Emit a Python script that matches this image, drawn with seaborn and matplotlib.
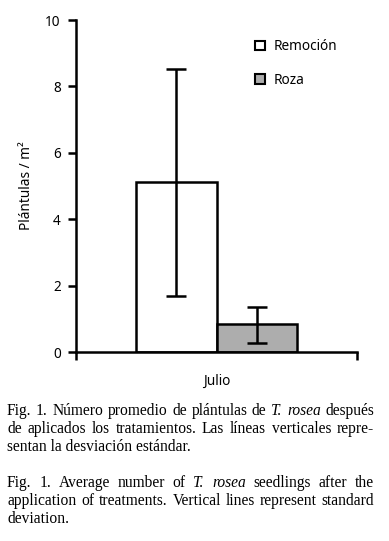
import matplotlib
matplotlib.use("Agg")
import matplotlib.pyplot as plt
import pandas as pd
import seaborn as sns
from matplotlib.patches import Patch

# data
month = ["Julio", "Julio"]
treatments = ["Remoción", "Roza"]
means = [5.12, 0.84]
sd_low = [1.69, 0.27]
sd_high = [8.53, 1.37]
bar_colors = ["#ffffff", "#adadad"]
yticks = [0, 2, 4, 6, 8, 10]

df = pd.DataFrame({"Mes": month, "Tratamiento": treatments, "Plantulas": means})

sns.set_style("ticks")
plt.rcParams["font.family"] = ["Noto Sans", "DejaVu Sans"]
plt.rcParams.update({"axes.edgecolor": "black", "xtick.color": "black",
                     "ytick.color": "black", "text.color": "black",
                     "axes.labelcolor": "black"})

W, H = 389, 541
fig = plt.figure(figsize=(W / 100, H / 100), dpi=100)
ax = fig.add_axes([76 / W, 1 - 352 / H, 281 / W, 332 / H])

sns.barplot(data=df, x="Mes", y="Plantulas", hue="Tratamiento",
            palette=bar_colors, width=0.573, errorbar=None,
            edgecolor="black", linewidth=1.8, legend=False, ax=ax)

# error bars at bar centres
for p, m, lo, hi in zip(ax.patches, means, sd_low, sd_high):
    xc = p.get_x() + p.get_width() / 2
    ax.errorbar(xc, m, yerr=[[m - lo], [hi - m]], fmt="none", ecolor="black",
                elinewidth=1.8, capsize=7.5, capthick=1.8, zorder=5)

ax.set_xlim(-0.5, 0.5)
ax.set_ylim(0, 10)
ax.set_yticks(yticks)
ax.set_xticks([0])
ax.set_xticklabels(["Julio"], fontsize=9.8)
ax.set_xticks([-0.5, 0.5], minor=True)
ax.tick_params(axis="x", which="major", length=0, pad=16)
ax.tick_params(axis="x", which="minor", length=6, width=1.8, direction="out")
ax.tick_params(axis="y", length=6, width=1.8, labelsize=9.8, pad=5)
ax.set_xlabel("")
ax.set_ylabel("Plántulas / m²", fontsize=9.8, labelpad=8)
for s in ["top", "right"]:
    ax.spines[s].set_visible(False)
for s in ["left", "bottom"]:
    ax.spines[s].set_linewidth(1.8)

handles = [Patch(facecolor=c, edgecolor="black", linewidth=1.5) for c in bar_colors]
fig.legend(handles, treatments, loc="upper left", bbox_to_anchor=(243 / W, 1 - 27 / H),
           frameon=False, fontsize=9.8, handlelength=0.75, handleheight=0.75,
           handletextpad=0.6, labelspacing=1.36)

# caption, justified lines
caption = [
    ([("Fig.", 0), ("1.", 0), ("Número", 0), ("promedio", 0), ("de", 0), ("plántulas", 0),
      ("de", 0), ("T.", 1), ("rosea", 1), ("después", 0)], 415, True),
    ([("de", 0), ("aplicados", 0), ("los", 0), ("tratamientos.", 0), ("Las", 0), ("líneas", 0),
      ("verticales", 0), ("repre-", 0)], 433, True),
    ([("sentan la desviación estándar.", 0)], 451, False),
    ([("Fig.", 0), ("1.", 0), ("Average", 0), ("number", 0), ("of", 0), ("T.", 1),
      ("rosea", 1), ("seedlings", 0), ("after", 0), ("the", 0)], 487, True),
    ([("application", 0), ("of", 0), ("treatments.", 0), ("Vertical", 0), ("lines", 0),
      ("represent", 0), ("standard", 0)], 505, True),
    ([("deviation.", 0)], 523, False),
]
left_px, right_px = 7, 374
renderer = fig.canvas.get_renderer()
for words, ybase, justify in caption:
    texts = []
    for w, it in words:
        t = fig.text(0, 1 - ybase / H, w, fontsize=11.2, family="Liberation Serif",
                     style="italic" if it else "normal", va="baseline", ha="left")
        texts.append(t)
    widths = [t.get_window_extent(renderer).width for t in texts]
    if justify and len(texts) > 1:
        gap = (right_px - left_px - sum(widths)) / (len(texts) - 1)
    else:
        gap = 3
    x = left_px
    for t, w in zip(texts, widths):
        t.set_x(x / W)
        x += w + gap

fig.savefig("out.png", dpi=100)
